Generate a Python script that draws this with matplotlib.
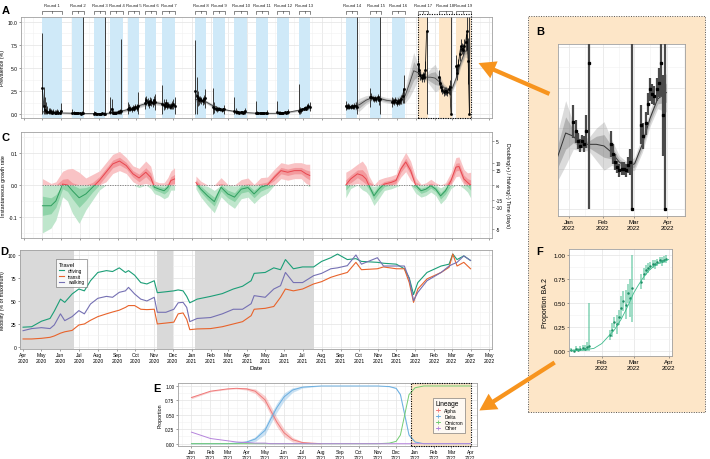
import numpy as np
import matplotlib
matplotlib.use('Agg')
import matplotlib.pyplot as plt
import matplotlib.dates as mdates
import matplotlib.transforms as mtransforms
from matplotlib.patches import Rectangle, FancyArrowPatch
from matplotlib.lines import Line2D
from matplotlib.ticker import MultipleLocator, FixedLocator

plt.rcParams['font.family'] = ['Liberation Sans', 'DejaVu Sans']

# ---------------- DATA ----------------
round_names = ['Round %d' % i for i in range(1, 20)]
round_start = ['2020-05-01', '2020-06-19', '2020-07-24', '2020-08-20', '2020-09-18', '2020-10-16',
               '2020-11-13', '2021-01-06', '2021-02-04', '2021-03-11', '2021-04-15', '2021-05-20',
               '2021-06-24', '2021-09-09', '2021-10-19', '2021-11-23', '2022-01-05', '2022-02-08',
               '2022-03-08']
round_end = ['2020-06-01', '2020-07-07', '2020-08-11', '2020-09-08', '2020-10-05', '2020-11-02',
             '2020-12-03', '2021-01-22', '2021-02-23', '2021-03-30', '2021-05-03', '2021-06-07',
             '2021-07-12', '2021-09-27', '2021-11-05', '2021-12-14', '2022-01-20', '2022-03-01',
             '2022-03-31']
# daily prevalence (%) every 2 days within each round, and CI half-widths
prev_vals = [
    [2.8, 0.9, 0.4, 0.3, 0.25, 0.2, 0.3, 0.2, 0.15, 0.2, 0.1, 0.15, 0.2, 0.15, 0.1, 0.3],
    [0.1, 0.15, 0.1, 0.12, 0.08, 0.1, 0.1, 0.05, 0.1, 0.1],
    [0.05, 0.1, 0.05, 0.05, 0.03, 0.05, 0.04, 0.06, 0.05, 0.05],
    [0.2, 0.6, 0.1, 0.15, 0.1, 0.15, 0.2, 0.25, 0.3, 0.3],
    [0.5, 0.7, 0.6, 0.5, 0.7, 0.6, 0.8, 0.7, 0.9],
    [1.2, 1.5, 1.3, 1.1, 1.4, 1.3, 1.2, 1.5, 1.3],
    [1.1, 1.0, 0.9, 1.2, 0.9, 1.0, 0.8, 0.9, 1.0, 1.1, 0.9],
    [2.5, 2.0, 1.7, 1.5, 1.6, 1.5, 1.4, 1.6, 1.7],
    [0.8, 0.7, 0.6, 0.5, 0.5, 0.6, 0.5, 0.4, 0.5, 0.5],
    [0.3, 0.25, 0.2, 0.2, 0.15, 0.2, 0.2, 0.15, 0.2, 0.3],
    [0.1, 0.1, 0.08, 0.1, 0.1, 0.1, 0.1, 0.1, 0.12, 0.1],
    [0.2, 0.1, 0.15, 0.1, 0.15, 0.15, 0.2, 0.15, 0.2, 0.2],
    [0.3, 0.4, 0.4, 0.5, 0.6, 0.7, 0.6, 0.8, 0.9, 0.8],
    [0.9, 0.8, 0.9, 0.8, 0.8, 0.9, 0.8, 0.9, 0.9, 0.8],
    [1.8, 1.9, 1.7, 1.6, 1.7, 1.6, 1.8, 1.5, 1.6],
    [1.3, 1.4, 1.3, 1.5, 1.2, 1.4, 1.3, 1.5, 1.6, 2.0, 2.7],
    [5.4, 4.8, 4.2, 3.9, 4.2, 4.0, 4.8, 9.0],
    [4.0, 3.4, 2.9, 2.6, 2.4, 2.5, 2.5, 2.4, 2.7, 2.9, 0.0],
    [5.2, 4.5, 5.3, 6.5, 7.4, 7.1, 7.0, 7.4, 7.8, 9.0, 5.8, 0.0],
]
prev_err = [
    [6.0, 2.0, 1.5, 1.0, 0.6, 0.5, 0.4, 0.3, 0.3, 0.3, 0.3, 0.3, 0.3, 0.3, 0.3, 0.9],
    [0.4, 0.2, 0.15, 0.15, 0.1, 0.1, 0.1, 0.1, 0.2, 10.5],
    [0.3, 0.15, 0.1, 0.1, 0.1, 0.1, 0.1, 0.1, 0.2, 10.5],
    [1.7, 1.0, 0.3, 0.2, 0.2, 0.2, 0.2, 0.2, 0.3, 7.8],
    [0.8, 0.4, 0.3, 0.3, 0.3, 0.3, 0.3, 0.4, 1.5],
    [0.6, 0.5, 0.4, 0.4, 0.4, 0.4, 0.4, 0.5, 0.9],
    [2.0, 0.6, 0.4, 0.4, 0.4, 0.3, 0.3, 0.3, 0.4, 0.5, 1.0],
    [5.5, 2.0, 0.8, 0.5, 0.4, 0.4, 0.4, 0.5, 1.0],
    [2.0, 0.6, 0.3, 0.3, 0.2, 0.2, 0.2, 0.2, 0.2, 0.5],
    [1.5, 0.4, 0.2, 0.15, 0.15, 0.15, 0.15, 0.15, 0.2, 0.4],
    [1.3, 0.2, 0.1, 0.1, 0.1, 0.1, 0.1, 0.1, 0.15, 0.3],
    [1.2, 0.2, 0.15, 0.1, 0.1, 0.1, 0.1, 0.1, 0.15, 0.3],
    [3.0, 0.4, 0.3, 0.2, 0.2, 0.2, 0.2, 0.3, 0.3, 0.5],
    [0.5, 0.3, 0.3, 0.3, 0.2, 0.2, 0.2, 0.3, 0.4, 10.5],
    [1.0, 0.4, 0.3, 0.3, 0.3, 0.3, 0.4, 0.5, 10.5],
    [0.5, 0.3, 0.3, 0.3, 0.3, 0.3, 0.3, 0.4, 0.5, 0.8, 1.5],
    [1.0, 0.7, 0.5, 0.4, 0.4, 0.5, 1.0, 9.0],
    [0.8, 0.6, 0.5, 0.4, 0.4, 0.4, 0.4, 0.4, 0.5, 0.8, 10.5],
    [1.2, 0.8, 0.7, 0.7, 0.7, 0.6, 0.6, 0.7, 0.9, 2.0, 2.5, 10.5],
]
# smoothed prevalence (P-spline) segments
sm_dates = [
    ['2020-05-01', '2020-05-15', '2020-06-01', '2020-06-15', '2020-07-01', '2020-07-15', '2020-08-01',
     '2020-08-15', '2020-09-01', '2020-09-15', '2020-10-01', '2020-10-15', '2020-11-01', '2020-11-15',
     '2020-12-03'],
    ['2021-01-06', '2021-01-20', '2021-02-01', '2021-02-15', '2021-03-01', '2021-03-15', '2021-04-01',
     '2021-04-15', '2021-05-01', '2021-05-15', '2021-06-01', '2021-06-15', '2021-07-01', '2021-07-12'],
    ['2021-09-09', '2021-09-20', '2021-10-01', '2021-10-12', '2021-10-23', '2021-11-03', '2021-11-14',
     '2021-11-25', '2021-12-06', '2021-12-15', '2021-12-22', '2021-12-29', '2022-01-05', '2022-01-12',
     '2022-01-19', '2022-01-26', '2022-02-02', '2022-02-09', '2022-02-16', '2022-02-23', '2022-03-02',
     '2022-03-09', '2022-03-16', '2022-03-23', '2022-03-31'],
]
sm_mid = [
    [0.25, 0.2, 0.12, 0.1, 0.08, 0.06, 0.05, 0.08, 0.2, 0.45, 0.8, 1.1, 1.25, 1.1, 0.95],
    [1.6, 1.45, 1.0, 0.6, 0.4, 0.25, 0.15, 0.1, 0.08, 0.08, 0.12, 0.3, 0.5, 0.7],
    [0.8, 0.85, 1.0, 1.5, 1.8, 1.7, 1.5, 1.4, 1.5, 2.0, 3.3, 4.7, 4.5, 4.0, 4.0, 4.0, 3.9, 3.5,
     2.9, 2.6, 2.8, 4.0, 5.6, 6.8, 7.2],
]
sm_w95 = [
    [0.15, 0.1, 0.08, 0.1, 0.1, 0.08, 0.06, 0.08, 0.12, 0.2, 0.25, 0.25, 0.25, 0.25, 0.3],
    [0.3, 0.2, 0.2, 0.15, 0.1, 0.08, 0.06, 0.06, 0.06, 0.06, 0.08, 0.12, 0.15, 0.25],
    [0.2, 0.3, 0.7, 0.5, 0.3, 0.3, 0.3, 0.3, 0.5, 0.8, 1.5, 2.0, 0.8, 0.4, 0.4, 1.0, 1.5, 0.8,
     0.4, 0.3, 0.4, 0.5, 0.5, 0.6, 1.2],
]
sm_w50 = [
    [0.07, 0.05, 0.04, 0.05, 0.05, 0.04, 0.03, 0.04, 0.06, 0.1, 0.12, 0.12, 0.12, 0.12, 0.15],
    [0.15, 0.1, 0.1, 0.07, 0.05, 0.04, 0.03, 0.03, 0.03, 0.03, 0.04, 0.06, 0.07, 0.12],
    [0.1, 0.15, 0.35, 0.25, 0.15, 0.15, 0.15, 0.15, 0.25, 0.4, 0.7, 1.0, 0.4, 0.2, 0.2, 0.5, 0.7,
     0.4, 0.2, 0.15, 0.2, 0.25, 0.25, 0.3, 0.6],
]

# growth rate segments
gr_dates = [
    ['2020-05-01', '2020-05-15', '2020-05-23', '2020-06-03', '2020-06-11', '2020-06-19', '2020-06-30',
     '2020-07-11', '2020-07-22', '2020-08-02', '2020-08-13', '2020-08-24', '2020-09-04', '2020-09-15',
     '2020-09-26', '2020-10-06', '2020-10-17', '2020-10-25', '2020-10-31', '2020-11-08', '2020-11-16',
     '2020-11-22', '2020-11-27', '2020-12-03'],
    ['2021-01-07', '2021-01-15', '2021-01-26', '2021-02-06', '2021-02-17', '2021-02-28', '2021-03-11',
     '2021-03-22', '2021-04-02', '2021-04-12', '2021-04-23', '2021-05-04', '2021-05-15', '2021-05-26',
     '2021-06-06', '2021-06-17', '2021-06-28', '2021-07-06', '2021-07-12'],
    ['2021-09-09', '2021-09-17', '2021-09-28', '2021-10-06', '2021-10-12', '2021-10-17', '2021-10-25',
     '2021-11-02', '2021-11-11', '2021-11-22', '2021-11-30', '2021-12-08', '2021-12-16', '2021-12-24',
     '2022-01-01', '2022-01-10', '2022-01-18', '2022-01-26', '2022-02-03', '2022-02-11', '2022-02-19',
     '2022-02-28', '2022-03-08', '2022-03-13', '2022-03-21', '2022-03-27', '2022-04-01'],
]
gr_mid = [
    [-0.065, -0.065, -0.05, 0.003, 0.0, -0.018, -0.04, -0.028, -0.007, 0.014, 0.04, 0.066, 0.075,
     0.061, 0.035, 0.022, 0.04, 0.024, -0.007, -0.013, -0.018, -0.007, 0.014, 0.019],
    [0.008, -0.013, -0.034, -0.052, -0.007, -0.028, -0.038, -0.013, -0.008, -0.028, -0.007, 0.0,
     0.024, 0.045, 0.04, 0.045, 0.045, 0.035, 0.03],
    [0.0, 0.019, 0.035, 0.03, 0.019, -0.002, -0.034, -0.013, 0.003, 0.008, 0.014, 0.05, 0.072, 0.045,
     0.0, -0.018, -0.013, -0.002, -0.013, -0.034, -0.018, 0.014, 0.056, 0.058, 0.019, 0.008, 0.0],
]
gr_w95 = [
    [0.085, 0.07, 0.06, 0.04, 0.05, 0.07, 0.08, 0.05, 0.04, 0.03, 0.03, 0.03, 0.03, 0.025, 0.025,
     0.03, 0.035, 0.035, 0.02, 0.02, 0.025, 0.03, 0.03, 0.035],
    [0.02, 0.025, 0.03, 0.035, 0.03, 0.03, 0.035, 0.03, 0.03, 0.03, 0.03, 0.025, 0.025, 0.025, 0.025,
     0.025, 0.025, 0.03, 0.035],
    [0.04, 0.03, 0.03, 0.045, 0.04, 0.03, 0.03, 0.03, 0.02, 0.02, 0.02, 0.025, 0.03, 0.03, 0.025,
     0.02, 0.02, 0.02, 0.02, 0.025, 0.025, 0.025, 0.03, 0.03, 0.03, 0.03, 0.04],
]
gr_w50 = [
    [0.03, 0.025, 0.02, 0.015, 0.02, 0.025, 0.03, 0.02, 0.015, 0.012, 0.012, 0.012, 0.012, 0.01, 0.01,
     0.012, 0.014, 0.014, 0.008, 0.008, 0.01, 0.012, 0.012, 0.014],
    [0.008, 0.01, 0.012, 0.014, 0.012, 0.012, 0.014, 0.012, 0.012, 0.012, 0.012, 0.01, 0.01, 0.01,
     0.01, 0.01, 0.01, 0.012, 0.014],
    [0.016, 0.012, 0.012, 0.018, 0.016, 0.012, 0.012, 0.012, 0.008, 0.008, 0.008, 0.01, 0.012, 0.012,
     0.01, 0.008, 0.008, 0.008, 0.008, 0.01, 0.01, 0.01, 0.012, 0.012, 0.012, 0.012, 0.016],
]

# mobility
mob_dates = ['2020-04-01', '2020-04-15', '2020-05-01', '2020-05-15', '2020-05-22', '2020-06-01',
             '2020-06-08', '2020-06-20', '2020-07-01', '2020-07-10', '2020-07-20', '2020-08-01',
             '2020-08-15', '2020-08-25', '2020-09-05', '2020-09-15', '2020-09-20', '2020-09-30',
             '2020-10-10', '2020-10-20', '2020-11-01', '2020-11-06', '2020-11-20', '2020-12-03',
             '2020-12-10', '2020-12-18', '2020-12-24', '2020-12-29', '2021-01-10', '2021-02-01',
             '2021-02-20', '2021-03-10', '2021-03-25', '2021-04-08', '2021-04-13', '2021-05-01',
             '2021-05-15', '2021-05-26', '2021-06-03', '2021-06-16', '2021-07-01', '2021-07-19',
             '2021-08-01', '2021-08-16', '2021-08-27', '2021-09-12', '2021-09-26', '2021-10-05',
             '2021-10-31', '2021-11-10', '2021-12-01', '2021-12-14', '2021-12-22', '2021-12-29',
             '2022-01-05', '2022-01-20', '2022-02-12', '2022-02-25', '2022-03-03', '2022-03-10',
             '2022-03-21', '2022-04-01']
mob_driving = [21.5, 22, 28, 31, 39, 52, 48.5, 57.6, 63, 61, 72, 81, 83, 82, 86, 81, 83, 78, 70, 68.5,
               72, 59, 60, 61, 62, 61, 55, 48, 52, 55, 58, 63, 66, 72, 80, 81, 86, 84, 95, 85, 87, 87,
               93, 97, 101, 95, 96, 93, 92, 91, 90, 85, 75, 57, 70, 81, 88, 90, 101, 95, 99, 94]
mob_transit = [8.7, 8.7, 9.4, 10.5, 12, 15, 16.5, 18, 23.9, 25, 29, 33, 36, 38, 40, 43, 45, 45, 41,
               40.6, 41, 25, 26, 27, 36, 37, 30, 18.8, 19.6, 20, 22, 25, 27.5, 34, 41, 42, 44, 54, 63,
               61, 63, 68.5, 71, 75.7, 78, 81, 92, 84, 85, 87, 85, 85, 70, 48.5, 63, 74, 81, 86.6, 101,
               88, 92, 85]
mob_walking = [17.7, 20, 21, 20, 24, 36, 28.6, 33, 39.5, 36, 46.7, 52.9, 55, 54, 59.4, 61, 64.8, 57.6,
               52, 50, 54, 37.7, 37.7, 41, 48, 48.5, 43, 27.5, 31, 32, 36, 41, 41, 47, 55.8, 54, 63,
               66.6, 81, 70, 70, 77.5, 80, 85, 86, 88.4, 100, 90, 97, 88, 88, 88, 74, 50.4, 59.4, 72,
               81, 88, 90, 92, 99, 94]
lockdown_start = ['2020-03-20', '2020-11-05', '2021-01-06']
lockdown_end = ['2020-06-23', '2020-12-02', '2021-07-19']

# lineage proportions
lin_dates = ['2021-01-01', '2021-02-01', '2021-03-01', '2021-03-15', '2021-04-01', '2021-04-15',
             '2021-05-01', '2021-05-10', '2021-05-20', '2021-06-01', '2021-06-15', '2021-07-01',
             '2021-07-15', '2021-08-01', '2021-09-01', '2021-10-01', '2021-11-01', '2021-11-20',
             '2021-12-01', '2021-12-08', '2021-12-15', '2021-12-22', '2022-01-01', '2022-01-15',
             '2022-02-01', '2022-03-01', '2022-04-01']
lin_alpha = [0.80, 0.91, 0.95, 0.96, 0.95, 0.91, 0.76, 0.58, 0.38, 0.19, 0.07, 0.02, 0.01, 0.0,
             0.0, 0.0, 0.0, 0.0, 0.0, 0.0, 0.0, 0.0, 0.0, 0.0, 0.0, 0.0, 0.0]
lin_delta = [0.0, 0.0, 0.0, 0.01, 0.03, 0.08, 0.23, 0.42, 0.62, 0.81, 0.93, 0.98, 0.99, 1.0, 1.0,
             1.0, 1.0, 0.99, 0.96, 0.85, 0.5, 0.15, 0.03, 0.0, 0.0, 0.0, 0.0]
lin_omicron = [0.0, 0.0, 0.0, 0.0, 0.0, 0.0, 0.0, 0.0, 0.0, 0.0, 0.0, 0.0, 0.0, 0.0, 0.0, 0.0, 0.0,
               0.01, 0.04, 0.15, 0.5, 0.85, 0.97, 1.0, 1.0, 1.0, 1.0]
lin_other = [0.20, 0.09, 0.05, 0.03, 0.02, 0.01, 0.01, 0.0, 0.0, 0.0, 0.0, 0.0, 0.0, 0.0, 0.0, 0.0,
             0.0, 0.0, 0.0, 0.0, 0.0, 0.0, 0.0, 0.0, 0.0, 0.0, 0.0]
lin_alpha_w = [0.02, 0.01, 0.01, 0.01, 0.02, 0.04, 0.07, 0.08, 0.08, 0.07, 0.04, 0.015, 0.01, 0.0,
               0.0, 0.0, 0.0, 0.0, 0.0, 0.0, 0.0, 0.0, 0.0, 0.0, 0.0, 0.0, 0.0]
lin_delta_w = [0.0, 0.0, 0.0, 0.01, 0.02, 0.04, 0.07, 0.08, 0.08, 0.07, 0.04, 0.015, 0.01, 0.0,
               0.0, 0.0, 0.0, 0.005, 0.01, 0.02, 0.03, 0.02, 0.01, 0.0, 0.0, 0.0, 0.0]
lineage_names = ['Alpha', 'Delta', 'Omicron', 'Other']

# BA.2 proportion
ba2_curve_dates = ['2022-01-05', '2022-01-15', '2022-01-25', '2022-02-01', '2022-02-08', '2022-02-12',
                   '2022-02-18', '2022-02-22', '2022-02-26', '2022-03-01', '2022-03-05', '2022-03-10',
                   '2022-03-15', '2022-03-20', '2022-03-25', '2022-04-01']
ba2_curve = [0.005, 0.012, 0.03, 0.08, 0.17, 0.22, 0.33, 0.42, 0.52, 0.6, 0.68, 0.77, 0.84, 0.89,
             0.92, 0.95]
ba2_block_start = ['2022-01-05', '2022-02-08', '2022-03-08']
ba2_vals = [
    [0.01, 0.0, 0.02, 0.01, 0.02, 0.03, 0.02, 0.04, 0.05],
    [0.17, 0.22, 0.30, 0.28, 0.35, 0.45, 0.52, 0.48, 0.60, 0.55, 0.65],
    [0.72, 0.80, 0.84, 0.86, 0.88, 0.90, 0.90, 0.92, 0.94, 0.93, 0.95, 0.96],
]
ba2_err = [
    [0.02, 0.02, 0.03, 0.02, 0.03, 0.04, 0.05, 0.06, 0.45],
    [0.05, 0.07, 0.06, 0.10, 0.08, 0.12, 0.10, 0.15, 0.10, 0.20, 0.35],
    [0.08, 0.06, 0.05, 0.05, 0.04, 0.04, 0.05, 0.04, 0.04, 0.05, 0.04, 0.05],
]

# ---------------- FIGURE ----------------
W, H = 710, 460
fig = plt.figure(figsize=(7.1, 4.6), dpi=100)


def ax_px(x0, y0, x1, y1):
    return fig.add_axes([x0 / W, 1 - y1 / H, (x1 - x0) / W, (y1 - y0) / H])


def D(lst):
    return np.array(lst, dtype='datetime64[D]')


def style(ax, fs=3.6):
    ax.set_facecolor('white')
    for s in ax.spines.values():
        s.set_color('#a0a0a0')
        s.set_linewidth(0.6)
    ax.grid(True, which='major', color='#e3e3e3', lw=0.5)
    ax.grid(True, which='minor', color='#f1f1f1', lw=0.4)
    ax.tick_params(which='both', labelsize=fs, length=1.5, width=0.4, color='#555', pad=1)
    ax.tick_params(which='minor', length=0)
    ax.set_axisbelow(True)


def month_axis(ax, labels=True, fs=3.6):
    ax.xaxis.set_major_locator(mdates.MonthLocator())
    ax.xaxis.set_minor_locator(mdates.MonthLocator(bymonthday=16))
    ax.xaxis.set_major_formatter(mdates.DateFormatter('%b\n%Y'))
    if not labels:
        ax.tick_params(axis='x', labelbottom=False)


BLUE = '#cfe9f8'
PEACH = '#fde6c8'
ORANGE = '#f7941e'
LET = 8
xlo, xhi = np.datetime64('2020-03-27'), np.datetime64('2022-05-06')
one = np.timedelta64(1, 'D')

# background box for B and F
fig.add_artist(Rectangle((528 / W, 1 - 413 / H), (705 - 528) / W, (413 - 17) / H, transform=fig.transFigure,
                         facecolor=PEACH, edgecolor='#555', lw=0.7, ls=(0, (1, 1.5)), zorder=-5))

# ---------- Panel A ----------
axA = ax_px(21, 18, 492, 119)
style(axA)
axA.set_xlim(xlo, xhi)
axA.set_ylim(-0.43, 10.54)
axA.set_yticks([0, 2.5, 5, 7.5, 10])
axA.set_yticklabels(['0.0', '2.5', '5.0', '7.5', '10.0'])
axA.yaxis.set_minor_locator(MultipleLocator(1.25))
month_axis(axA, labels=False)
axA.set_ylabel('Prevalence (%)', fontsize=3.8, labelpad=2)

for i, (s, e) in enumerate(zip(round_start, round_end)):
    axA.axvspan(np.datetime64(s), np.datetime64(e) + one, color=PEACH if i >= 16 else BLUE, lw=0, zorder=0.8)

for d, m, w95, w50 in zip(sm_dates, sm_mid, sm_w95, sm_w50):
    d = D(d); m = np.array(m); w95 = np.array(w95); w50 = np.array(w50)
    axA.fill_between(d, np.maximum(m - w95, 0), m + w95, color='#8a8a8a', alpha=0.3, lw=0, zorder=2)
    axA.fill_between(d, np.maximum(m - w50, 0), m + w50, color='#6a6a6a', alpha=0.35, lw=0, zorder=2)
    axA.plot(d, m, color='#444', lw=0.6, zorder=3)

for s, v, e in zip(round_start, prev_vals, prev_err):
    v = np.array(v); e = np.array(e)
    d = np.datetime64(s) + np.arange(len(v)) * 2 * one
    axA.vlines(d, np.maximum(v - e, 0), np.minimum(v + e, 10.54), color='#3a3a3a', lw=0.7, zorder=4)
    axA.plot(d, v, color='black', lw=0.5, marker='s', ms=0.9, zorder=5)

trA = mtransforms.blended_transform_factory(axA.transData, axA.transAxes)
for name, s, e in zip(round_names, round_start, round_end):
    xs = mdates.date2num(np.datetime64(s))
    xe = mdates.date2num(np.datetime64(e) + one)
    xm = (xs + xe) / 2
    axA.plot([xs, xs, xe, xe], [1.025, 1.055, 1.055, 1.025], transform=trA, clip_on=False, color='#444', lw=0.45)
    axA.plot([xm, xm], [1.055, 1.04], transform=trA, clip_on=False, color='#444', lw=0.45)
    axA.text(xm, 1.115, name, transform=trA, ha='center', va='center', fontsize=3.1, color='#222')

bx0 = mdates.date2num(np.datetime64(round_start[16]))
bx1 = mdates.date2num(np.datetime64(round_end[18]) + one)
axA.add_patch(Rectangle((bx0, 0), bx1 - bx0, 1.03, transform=trA, fill=False, edgecolor='black',
                        lw=0.8, ls=(0, (1, 1.2)), clip_on=False, zorder=6))
fig.text(2 / W, 1 - 11 / H, 'A', fontsize=LET, fontweight='bold', va='center', ha='left')

# ---------- Panel C ----------
axC = ax_px(21, 133, 492, 239)
style(axC)
axC.set_xlim(xlo, xhi)
axC.set_ylim(-0.166, 0.166)
axC.set_yticks([-0.1, 0.0, 0.1])
axC.set_yticklabels(['-0.1', '0.0', '0.1'])
axC.yaxis.set_minor_locator(MultipleLocator(0.05))
month_axis(axC, labels=False)
axC.set_ylabel('Instantaneous growth rate', fontsize=3.8, labelpad=2)
RED_L, RED_1, RED_2 = '#e8474f', '#f9c3c5', '#f3999d'
GRN_L, GRN_1, GRN_2 = '#2e9e5e', '#bfe6cc', '#8fd3a8'
for d, m, w95, w50 in zip(gr_dates, gr_mid, gr_w95, gr_w50):
    d = D(d); m = np.array(m); w95 = np.array(w95); w50 = np.array(w50)
    axC.fill_between(d, np.maximum(m - w95, 0), np.maximum(m + w95, 0), color=RED_1, lw=0, zorder=2)
    axC.fill_between(d, np.maximum(m - w50, 0), np.maximum(m + w50, 0), color=RED_2, lw=0, zorder=2)
    axC.fill_between(d, np.minimum(m - w95, 0), np.minimum(m + w95, 0), color=GRN_1, lw=0, zorder=2)
    axC.fill_between(d, np.minimum(m - w50, 0), np.minimum(m + w50, 0), color=GRN_2, lw=0, zorder=2)
    x0 = mdates.date2num(d[0]); x1 = mdates.date2num(d[-1])
    lr, = axC.plot(d, m, color=RED_L, lw=0.7, zorder=3)
    lr.set_clip_path(Rectangle((x0 - 5, 0), x1 - x0 + 10, 1, transform=axC.transData))
    lg, = axC.plot(d, m, color=GRN_L, lw=0.7, zorder=3)
    lg.set_clip_path(Rectangle((x0 - 5, -1), x1 - x0 + 10, 1, transform=axC.transData))
    axC.plot([d[0], d[-1]], [0, 0], color='#777', lw=0.6, ls=(0, (1.5, 1.5)), zorder=4)

axC2 = axC.twinx()
axC2.set_ylim(-0.166, 0.166)
tpos = [np.log(2) / 5, np.log(2) / 10, np.log(2) / 15, 0.0, -np.log(2) / 15, -np.log(2) / 10, -np.log(2) / 5]
tlab = ['5', '10', '15', '\u221e', '-15', '-10', '-5']
axC2.yaxis.set_major_locator(FixedLocator(tpos))
axC2.set_yticklabels(tlab)
axC2.tick_params(labelsize=3.4, length=1.5, width=0.4, color='#555', pad=1)
for s in axC2.spines.values():
    s.set_visible(False)
axC2.set_ylabel('Doubling(+) / Halving(-) Time (days)', fontsize=3.8, rotation=270, labelpad=5)
fig.text(2 / W, 1 - 138 / H, 'C', fontsize=LET, fontweight='bold', va='center', ha='left')

# ---------- Panel D ----------
axD = ax_px(20, 251, 492, 350)
style(axD)
axD.set_xlim(xlo, xhi)
axD.set_ylim(-2.2, 105.4)
axD.set_yticks([0, 25, 50, 75, 100])
axD.yaxis.set_minor_locator(MultipleLocator(12.5))
month_axis(axD, labels=True)
axD.set_ylabel('Mobility (% of maximum)', fontsize=3.8, labelpad=2)
axD.set_xlabel('Date', fontsize=4.5, labelpad=1)
for s, e in zip(lockdown_start, lockdown_end):
    axD.axvspan(np.datetime64(s), np.datetime64(e), color='#d9d9d9', lw=0, zorder=0.8)
md = D(mob_dates)
axD.plot(md, mob_driving, color='#1b9e77', lw=0.8, label='driving', zorder=3)
axD.plot(md, mob_transit, color='#e8632b', lw=0.8, label='transit', zorder=3)
axD.plot(md, mob_walking, color='#7570b3', lw=0.8, label='walking', zorder=3)
legD = axD.legend(title='Travel', loc='upper left', bbox_to_anchor=(0.072, 0.93), fontsize=3.4,
                  title_fontsize=4.2, frameon=True, handlelength=1.2, borderpad=0.5, labelspacing=0.2,
                  fancybox=False)
legD.get_frame().set_edgecolor('#666')
legD.get_frame().set_linewidth(0.5)
legD._legend_box.align = 'left'
fig.text(0.5 / W, 1 - 252 / H, 'D', fontsize=LET, fontweight='bold', va='center', ha='left')

# ---------- Panel E ----------
axE = ax_px(178, 384, 477, 447)
style(axE, fs=3.4)
axE.set_xlim(np.datetime64('2020-12-10'), np.datetime64('2022-04-12'))
axE.set_ylim(-0.04, 1.052)
axE.set_yticks([0, 0.25, 0.5, 0.75, 1.0])
axE.set_yticklabels(['0.00', '0.25', '0.50', '0.75', '1.00'])
axE.yaxis.set_minor_locator(MultipleLocator(0.125))
month_axis(axE, labels=True, fs=3.4)
axE.set_ylabel('Proportion', fontsize=3.8, labelpad=2)
trE = mtransforms.blended_transform_factory(axE.transData, axE.transAxes)
ex0 = mdates.date2num(np.datetime64('2021-12-26'))
ex1 = mdates.date2num(np.datetime64('2022-04-02'))
axE.add_patch(Rectangle((ex0, 0), ex1 - ex0, 1, transform=trE, facecolor=PEACH, edgecolor='none', zorder=0.8))
axE.add_patch(Rectangle((ex0, 0), ex1 - ex0, 1, transform=trE, fill=False, edgecolor='black',
                        lw=0.8, ls=(0, (1, 1.2)), zorder=6, clip_on=False))
ld = D(lin_dates)
C_ALPHA, C_DELTA, C_OMI, C_OTH = '#f07a7a', '#6aaee0', '#72cc72', '#b584dc'
a = np.array(lin_alpha); aw = np.array(lin_alpha_w)
dl = np.array(lin_delta); dw = np.array(lin_delta_w)
axE.fill_between(ld[:14], (a - aw)[:14], (a + aw)[:14], color=C_ALPHA, alpha=0.35, lw=0, zorder=2)
axE.fill_between(ld, dl - dw, dl + dw, color=C_DELTA, alpha=0.35, lw=0, zorder=2)
axE.plot(ld[:14], a[:14], color=C_ALPHA, lw=0.7, zorder=3)
axE.plot(ld, dl, color=C_DELTA, lw=0.7, zorder=3)
axE.plot(ld, lin_omicron, color=C_OMI, lw=0.7, zorder=3)
axE.plot(ld, lin_other, color=C_OTH, lw=0.7, zorder=3)
hE = [Line2D([], [], color=c, lw=0.6, marker='+', ms=3, mew=0.6) for c in (C_ALPHA, C_DELTA, C_OMI, C_OTH)]
legE = axE.legend(hE, lineage_names, title='Lineage', loc='upper left', bbox_to_anchor=(0.845, 0.80),
                  fontsize=3.5, title_fontsize=4.8, frameon=True, handlelength=1.0, borderpad=0.5,
                  labelspacing=0.15, fancybox=False)
legE.get_frame().set_edgecolor('#666')
legE.get_frame().set_linewidth(0.5)
legE._legend_box.align = 'left'
fig.text(153 / W, 1 - 389 / H, 'E', fontsize=LET, fontweight='bold', va='center', ha='left')

# ---------- Panel B ----------
axB = ax_px(558, 45, 685, 217)
style(axB, fs=4.4)
axB.set_xlim(np.datetime64('2021-12-22'), np.datetime64('2022-04-17'))
axB.set_ylim(-0.43, 10.2)
axB.set_yticks([0, 2.5, 5, 7.5, 10])
axB.yaxis.set_minor_locator(MultipleLocator(1.25))
axB.tick_params(axis='y', labelleft=False, length=0)
month_axis(axB, labels=True, fs=4.4)
d = D(sm_dates[2]); m = np.array(sm_mid[2]); w95 = np.array(sm_w95[2]); w50 = np.array(sm_w50[2])
axB.fill_between(d, m - w95, m + w95, color='#8a8a8a', alpha=0.3, lw=0, zorder=2)
axB.fill_between(d, m - w50, m + w50, color='#6a6a6a', alpha=0.35, lw=0, zorder=2)
axB.plot(d, m, color='#333', lw=0.7, zorder=3)
for s, v, e in zip(round_start[16:], prev_vals[16:], prev_err[16:]):
    v = np.array(v); e = np.array(e)
    dd = np.datetime64(s) + np.arange(len(v)) * 2 * one
    axB.vlines(dd, np.maximum(v - e, 0), np.minimum(v + e, 10.2), color='#4a4a4a', lw=1.6, zorder=4)
    axB.plot(dd, v, ls='none', color='black', marker='s', ms=1.4, zorder=5)
fig.text(536 / W, 1 - 32 / H, 'B', fontsize=LET, fontweight='bold', va='center', ha='left')

# ---------- Panel F ----------
axF = ax_px(569, 250, 672, 357)
style(axF, fs=4.4)
axF.set_xlim(np.datetime64('2022-01-03'), np.datetime64('2022-04-04'))
axF.set_ylim(-0.049, 1.059)
axF.set_yticks([0, 0.25, 0.5, 0.75, 1.0])
axF.set_yticklabels(['0.00', '0.25', '0.50', '0.75', '1.00'])
axF.yaxis.set_minor_locator(MultipleLocator(0.125))
month_axis(axF, labels=True, fs=4.4)
axF.set_ylabel('Proportion BA.2', fontsize=5, labelpad=3)
F_C = '#3dbb8c'
for s, v, e in zip(ba2_block_start, ba2_vals, ba2_err):
    v = np.array(v); e = np.array(e)
    dd = np.datetime64(s) + np.arange(len(v)) * 2 * one
    axF.vlines(dd, np.maximum(v - e, 0), np.minimum(v + e, 1.0), color=F_C, alpha=0.5, lw=1.4, zorder=3)
    axF.plot(dd, v, ls='none', color='#1f8f66', marker='o', ms=0.8, zorder=4)
axF.plot(D(ba2_curve_dates), ba2_curve, color=F_C, lw=0.6, zorder=5)
fig.text(536 / W, 1 - 252 / H, 'F', fontsize=LET, fontweight='bold', va='center', ha='left')

# ---------- Arrows ----------
for (x0, y0), (x1, y1) in [((552, 96), (476, 63)), ((557, 362), (477, 413))]:
    fig.add_artist(FancyArrowPatch((x0 / W, 1 - y0 / H), (x1 / W, 1 - y1 / H), transform=fig.transFigure,
                                   arrowstyle='simple,head_length=1.1,head_width=1.2,tail_width=0.28',
                                   mutation_scale=11, color=ORANGE, lw=0, zorder=10))

fig.savefig('out.png', dpi=100)
